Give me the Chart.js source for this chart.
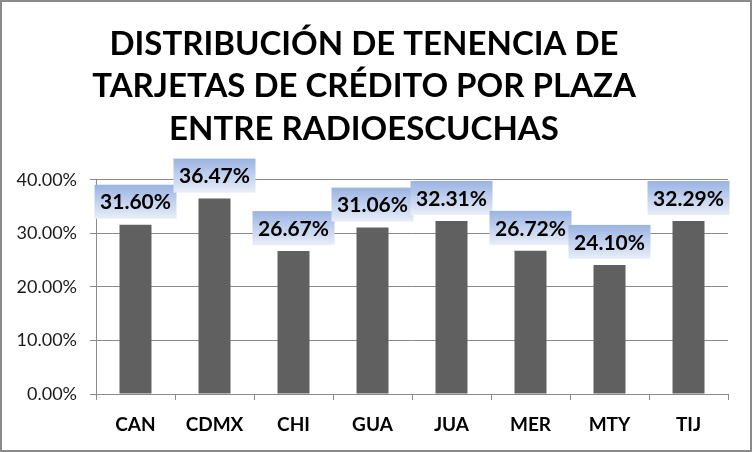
<!DOCTYPE html>
<html>
<head>
<meta charset="utf-8">
<script src="https://cdn.jsdelivr.net/npm/chart.js@4"></script>
<style>
  html, body { margin: 0; padding: 0; background: #fff; }
  #wrap { width: 752px; height: 452px; }
</style>
</head>
<body>
<div id="wrap"><canvas id="myBarChart" width="752" height="452"></canvas></div>
<script>
const categories = ["CAN", "CDMX", "CHI", "GUA", "JUA", "MER", "MTY", "TIJ"];
const values = [31.60, 36.47, 26.67, 31.06, 32.31, 26.72, 24.10, 32.29];
const yTicks = [0, 10, 20, 30, 40];
const titleLines = [
    "DISTRIBUCIÓN DE TENENCIA DE",
    "TARJETAS DE CRÉDITO POR PLAZA",
    "ENTRE RADIOESCUCHAS"
];

// gray frame round the whole chart
const framePlugin = {
    id: "frame",
    afterDraw(chart) {
        const ctx = chart.ctx;
        ctx.save();
        ctx.strokeStyle = "#8a8a8a";
        ctx.lineWidth = 2;
        ctx.strokeRect(1, 1, chart.width - 2, chart.height - 2);
        ctx.restore();
    }
};

// boxed value labels above each bar
const valueLabels = {
    id: "valueLabels",
    afterDatasetsDraw(chart) {
        const ctx = chart.ctx;
        const meta = chart.getDatasetMeta(0);
        ctx.save();
        meta.data.forEach((bar, i) => {
            const w = 82, h = 34;
            const x = bar.x - w / 2;
            const y = bar.y - 6 - h;
            const grad = ctx.createLinearGradient(0, y, 0, y + h);
            grad.addColorStop(0, "#9ab3e2");
            grad.addColorStop(1, "#e9eef8");
            ctx.fillStyle = grad;
            ctx.fillRect(x, y, w, h);
            ctx.fillStyle = "#000";
            ctx.font = "bold 21px Lato";
            ctx.textAlign = "center";
            ctx.textBaseline = "middle";
            ctx.fillText(values[i].toFixed(2) + "%", bar.x, y + h / 2 + 1);
        });
        ctx.restore();
    }
};

new Chart(document.getElementById("myBarChart").getContext("2d"), {
    type: "bar",
    data: {
        labels: categories,
        datasets: [{
            label: "Tenencia",
            data: values,
            backgroundColor: "#606060",
            borderWidth: 0,
            categoryPercentage: 1.0,
            barPercentage: 0.405
        }]
    },
    options: {
        responsive: false,
        animation: false,
        layout: { padding: { left: 0, right: 24, top: 0, bottom: 0 } },
        plugins: {
            legend: { display: false },
            tooltip: { enabled: false },
            title: {
                display: true,
                text: titleLines,
                color: "#000",
                font: { family: "Lato", size: 33, weight: "bold", lineHeight: 1.29 },
                padding: { top: 23, bottom: 29 }
            }
        },
        scales: {
            y: {
                min: 0,
                max: 40,
                afterBuildTicks(scale) {
                    scale.ticks = yTicks.map(v => ({ value: v }));
                },
                afterFit(scale) { scale.width = 96; },
                border: { color: "#8a8a8a", width: 1 },
                grid: { color: "#8a8a8a", lineWidth: 1, tickLength: 6 },
                ticks: {
                    color: "#1a1a1a",
                    font: { family: "Lato", size: 18 },
                    padding: 13,
                    callback: v => v.toFixed(2) + "%"
                }
            },
            x: {
                afterFit(scale) { scale.height = 58; },
                border: { color: "#8a8a8a", width: 1 },
                grid: { color: "#8a8a8a", drawOnChartArea: false, tickLength: 6, offset: true },
                ticks: {
                    color: "#000",
                    font: { family: "Lato", size: 19, weight: "bold" },
                    padding: 13
                }
            }
        }
    },
    plugins: [framePlugin, valueLabels]
});
</script>
</body>
</html>
